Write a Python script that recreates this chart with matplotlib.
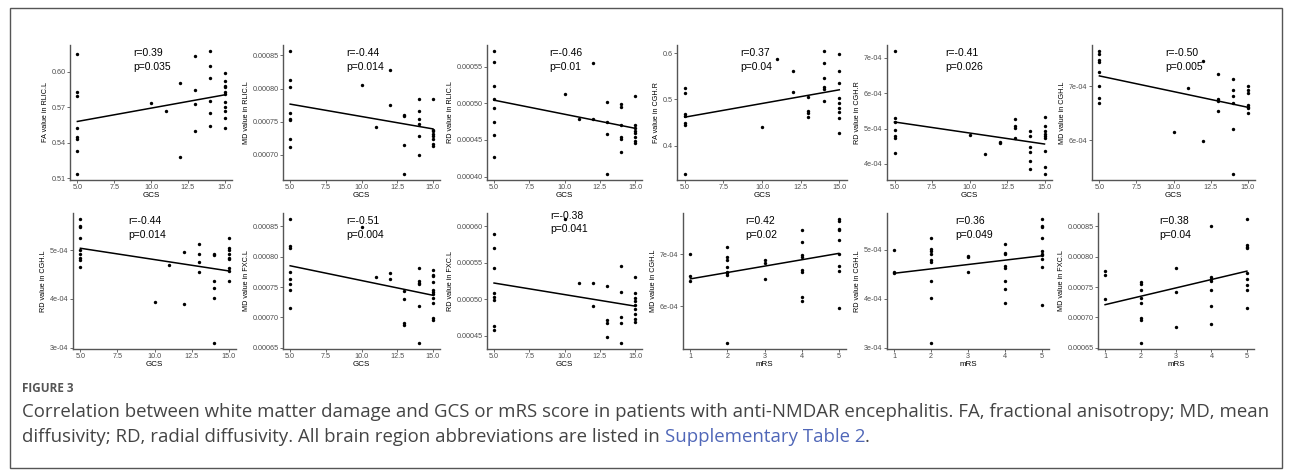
import numpy as np
import matplotlib
matplotlib.use("Agg")
import matplotlib.pyplot as plt
from matplotlib.patches import Rectangle

# ---- data ----
gcs_x1 = [5]*8 + [10, 11, 12, 12, 13, 13, 13, 13, 14, 14, 14, 14, 14, 14] + [15]*11
fa_rlic = [0.6153, 0.5828, 0.5794, 0.5523, 0.5449, 0.5432, 0.5331, 0.5136,
           0.5735, 0.5669, 0.5907, 0.5277, 0.6130, 0.5847, 0.5729, 0.5497,
           0.6175, 0.6048, 0.5949, 0.5752, 0.5650, 0.5545,
           0.5986, 0.5918, 0.5884, 0.5870, 0.5825, 0.5811, 0.5748, 0.5706, 0.5669, 0.5608, 0.5525]

gcs_x2 = [5]*8 + [10, 11, 12, 12, 13, 13, 13, 13, 14, 14, 14, 14, 14, 14] + [15]*8
md_rlic = [0.0008565, 0.0008132, 0.0008026, 0.0007626, 0.0007545, 0.0007520, 0.0007232, 0.0007117,
           0.0008056, 0.0007424, 0.0008277, 0.0007753, 0.0007601, 0.0007580, 0.0007147, 0.0006712,
           0.0007844, 0.0007667, 0.0007541, 0.0007465, 0.0007277, 0.0007000,
           0.0007848, 0.0007379, 0.0007353, 0.0007314, 0.0007277, 0.0007238, 0.0007167, 0.0007126]

gcs_x3 = [5]*8 + [10, 11, 12, 12, 13, 13, 13, 13, 14, 14, 14, 14, 14, 14] + [15]*8
rd_rlic = [0.000571, 0.000556, 0.0005237, 0.0005064, 0.0004941, 0.000475, 0.0004565, 0.0004265,
           0.0005124, 0.0004787, 0.0005555, 0.0004787, 0.0005023, 0.0004746, 0.0004582, 0.0004037,
           0.0004991, 0.0004955, 0.0004701, 0.0004537, 0.000451, 0.0004333,
           0.00051, 0.0004701, 0.000466, 0.0004623, 0.0004592, 0.0004546, 0.0004491, 0.0004456]

gcs_x4 = [5]*7 + [10, 11, 12, 12, 13, 13, 13, 13, 14, 14, 14, 14, 14, 14] + [15]*9
fa_cghr = [0.5245, 0.515, 0.4684, 0.4647, 0.449, 0.4447, 0.3396,
           0.441, 0.5877, 0.5618, 0.5172, 0.5051, 0.4762, 0.4706, 0.4619,
           0.6043, 0.5797, 0.5474, 0.5279, 0.5236, 0.4971,
           0.5978, 0.5618, 0.5353, 0.5029, 0.4934, 0.4813, 0.4727, 0.4611, 0.4287]

gcs_x5 = [5]*7 + [10, 11, 12, 12, 13, 13, 13, 13, 14, 14, 14, 14, 14, 14] + [15]*9
rd_cghr = [7.19e-4, 5.29e-4, 5.19e-4, 4.97e-4, 4.80e-4, 4.74e-4, 4.31e-4,
           4.83e-4, 4.29e-4, 4.63e-4, 4.59e-4, 5.26e-4, 5.06e-4, 5.01e-4, 4.73e-4,
           4.94e-4, 4.79e-4, 4.49e-4, 4.34e-4, 4.07e-4, 3.86e-4,
           5.34e-4, 5.08e-4, 4.92e-4, 4.84e-4, 4.79e-4, 4.73e-4, 4.38e-4, 3.90e-4, 3.72e-4]

gcs_x6 = [5]*8 + [10, 11, 12, 12, 13, 13, 13, 13, 14, 14, 14, 14, 14, 14] + [15]*7
md_cghl = [7.654e-4, 7.605e-4, 7.481e-4, 7.45e-4, 7.259e-4, 7.0e-4, 6.784e-4, 6.691e-4,
           6.143e-4, 6.975e-4, 7.463e-4, 5.987e-4, 7.222e-4, 6.765e-4, 6.728e-4, 6.537e-4,
           7.13e-4, 6.926e-4, 6.82e-4, 6.68e-4, 6.204e-4, 5.37e-4,
           7.0e-4, 6.938e-4, 6.883e-4, 6.648e-4, 6.617e-4, 6.587e-4, 6.494e-4]

gcs_x7 = [5]*9 + [10, 11, 12, 12, 13, 13, 13, 13, 14, 14, 14, 14, 14, 14] + [15]*9
rd_cghl = [5.636e-4, 5.497e-4, 5.476e-4, 5.248e-4, 4.994e-4, 4.917e-4, 4.843e-4, 4.807e-4, 4.656e-4,
           3.932e-4, 4.689e-4, 4.959e-4, 3.89e-4, 5.13e-4, 4.932e-4, 4.766e-4, 4.559e-4,
           4.925e-4, 4.896e-4, 4.366e-4, 4.222e-4, 4.027e-4, 3.10e-4,
           5.257e-4, 5.035e-4, 4.994e-4, 4.932e-4, 4.843e-4, 4.822e-4, 4.627e-4, 4.58e-4, 4.373e-4]

gcs_x8 = [5]*8 + [10, 11, 12, 12, 13, 13, 13, 13, 14, 14, 14, 14, 14, 14] + [15]*11
md_fxcl = [0.0008619, 0.0008183, 0.000815, 0.0007748, 0.0007639, 0.0007546, 0.0007454, 0.000716,
           0.0008494, 0.0007667, 0.0007732, 0.0007639, 0.0007438, 0.0007301, 0.0006903, 0.0006866,
           0.0007814, 0.0007601, 0.0007569, 0.0007546, 0.0007186, 0.000658,
           0.0007775, 0.0007704, 0.0007683, 0.0007585, 0.0007448, 0.0007422, 0.0007389, 0.0007312,
           0.000723, 0.0006985, 0.0006953]

gcs_x9 = [5]*8 + [10, 11, 12, 12, 13, 13, 13, 13, 14, 14, 14, 14, 14] + [15]*9
rd_fxcl = [0.0005892, 0.0005699, 0.0005426, 0.0005088, 0.0005035, 0.0004992, 0.0004638, 0.0004574,
           0.0006096, 0.0005228, 0.0005223, 0.0004902, 0.0005175, 0.0004714, 0.000467, 0.0004478,
           0.0005453, 0.0005105, 0.0004757, 0.0004677, 0.0004404,
           0.0005304, 0.0005079, 0.0005024, 0.0004971, 0.0004918, 0.0004863, 0.0004794, 0.000473, 0.0004693]

mrs_x10 = [1]*3 + [2]*8 + [3]*3 + [4]*8 + [5]*9
md_cghl_mrs = [7.0e-4, 6.577e-4, 6.492e-4,
               7.135e-4, 6.942e-4, 6.896e-4, 6.762e-4, 6.665e-4, 6.635e-4, 6.602e-4, 5.30e-4,
               6.896e-4, 6.827e-4, 6.525e-4,
               7.473e-4, 7.231e-4, 6.987e-4, 6.942e-4, 6.704e-4, 6.654e-4, 6.185e-4, 6.108e-4,
               7.679e-4, 7.635e-4, 7.487e-4, 7.467e-4, 7.269e-4, 7.0e-4, 6.781e-4, 6.685e-4, 5.962e-4]

mrs_x11 = [1]*3 + [2]*9 + [3]*3 + [4]*8 + [5]*10
rd_cghl_mrs = [5.0e-4, 4.551e-4, 4.531e-4,
               5.241e-4, 5.014e-4, 4.979e-4, 4.911e-4, 4.793e-4, 4.752e-4, 4.358e-4, 4.012e-4, 3.10e-4,
               4.876e-4, 4.841e-4, 4.551e-4,
               5.118e-4, 4.932e-4, 4.911e-4, 4.675e-4, 4.634e-4, 4.358e-4, 4.199e-4, 3.917e-4,
               5.621e-4, 5.482e-4, 5.455e-4, 5.228e-4, 4.965e-4, 4.917e-4, 4.882e-4, 4.814e-4, 4.641e-4, 3.876e-4]

mrs_x12 = [1]*3 + [2]*8 + [3]*3 + [4]*7 + [5]*9
md_fxcl_mrs = [0.0007765, 0.0007693, 0.0007296,
               0.0007585, 0.0007557, 0.0007459, 0.0007312, 0.0007242, 0.0006985, 0.0006958, 0.000658,
               0.0007814, 0.0007422, 0.0006833,
               0.00085, 0.0007667, 0.0007639, 0.0007606, 0.0007443, 0.0007193, 0.0006892,
               0.0008619, 0.0008194, 0.0008167, 0.0008141, 0.0007737, 0.0007639, 0.0007541, 0.0007454, 0.000716]

ylabels = ["FA value in RLIC.L", "MD value in RLIC.L", "RD value in RLIC.L",
           "FA value in CGH.R", "RD value in CGH.R", "MD value in CGH.L",
           "RD value in CGH.L", "MD value in FXC.L", "RD value in FXC.L",
           "MD value in CGH.L", "RD value in CGH.L", "MD value in FXC.L"]
r_text = ["r=0.39", "r=-0.44", "r=-0.46", "r=0.37", "r=-0.41", "r=-0.50",
          "r=-0.44", "r=-0.51", "r=-0.38", "r=0.42", "r=0.36", "r=0.38"]
p_text = ["p=0.035", "p=0.014", "p=0.01", "p=0.04", "p=0.026", "p=0.005",
          "p=0.014", "p=0.004", "p=0.041", "p=0.02", "p=0.049", "p=0.04"]
yticks = [[0.51, 0.54, 0.57, 0.60], [0.00070, 0.00075, 0.00080, 0.00085],
          [0.00040, 0.00045, 0.00050, 0.00055], [0.4, 0.5, 0.6],
          [4e-4, 5e-4, 6e-4, 7e-4], [6e-4, 7e-4], [3e-4, 4e-4, 5e-4],
          [0.00065, 0.00070, 0.00075, 0.00080, 0.00085], [0.00045, 0.00050, 0.00055, 0.00060],
          [6e-4, 7e-4], [3e-4, 4e-4, 5e-4], [0.00065, 0.00070, 0.00075, 0.00080, 0.00085]]
yfmt = ["%.2f", "%.5f", "%.5f", "%.1f", "e", "e", "e", "%.5f", "%.5f", "e", "e", "%.5f"]

xs = [gcs_x1, gcs_x2, gcs_x3, gcs_x4, gcs_x5, gcs_x6, gcs_x7, gcs_x8, gcs_x9, mrs_x10, mrs_x11, mrs_x12]
ys = [fa_rlic, md_rlic, rd_rlic, fa_cghr, rd_cghr, md_cghl, rd_cghl, md_fxcl, rd_fxcl,
      md_cghl_mrs, rd_cghl_mrs, md_fxcl_mrs]
xlab = ["GCS"]*9 + ["mRS"]*3

# ---- layout (pixels) ----
W, H = 1292, 476
cols_px = [(70, 232), (283, 440), (487, 642), (677, 847), (887, 1052), (1092, 1255),
           (73, 236), (283, 440), (487, 642), (683, 846), (887, 1049), (1098, 1254)]
rows_px = [(45, 180), (213, 349)]
txt_pos = [0.39, 0.405, 0.40, 0.373, 0.353, 0.449, 0.34, 0.40, 0.41, 0.38, 0.42, 0.39]

plt.rcParams['font.family'] = ['Liberation Sans', 'DejaVu Sans']
fig = plt.figure(figsize=(W/100, H/100), dpi=100)

# frame
fig.patches.append(Rectangle((10/W, 1-468/H), 1272/W, 460/H, transform=fig.transFigure,
                             fill=False, edgecolor='#555555', lw=1.0))

for i in range(12):
    l, r = cols_px[i]
    t, b = rows_px[i // 6]
    ax = fig.add_axes([l/W, 1-b/H, (r-l)/W, (b-t)/H])
    x = np.array(xs[i], dtype=float)
    y = np.array(ys[i], dtype=float)
    ax.scatter(x, y, s=6, color='black', linewidths=0, zorder=3)
    k, c = np.polyfit(x, y, 1)
    xx = np.array([x.min(), x.max()])
    ax.plot(xx, k*xx + c, color='black', lw=1.1, zorder=2)

    if i < 9:
        ax.set_xlim(4.5, 15.5)
        ax.set_xticks([5, 7.5, 10, 12.5, 15])
        ax.set_xticklabels(["5.0", "7.5", "10.0", "12.5", "15.0"])
    else:
        ax.set_xlim(0.8, 5.2)
        ax.set_xticks([1, 2, 3, 4, 5])
    pad = (y.max() - y.min()) * 0.05
    ax.set_ylim(y.min() - pad, y.max() + pad)
    ax.set_yticks(yticks[i])
    if yfmt[i] == "e":
        ax.set_yticklabels([f"{v:.0e}" for v in yticks[i]])
    else:
        ax.set_yticklabels([yfmt[i] % v for v in yticks[i]])

    for s in ['top', 'right']:
        ax.spines[s].set_visible(False)
    for s in ['left', 'bottom']:
        ax.spines[s].set_color('#555555')
        ax.spines[s].set_linewidth(1.0)
    ax.tick_params(length=2, width=0.6, color='#555555', labelsize=5.2,
                   labelcolor='#4d4d4d', pad=1.2)
    ax.set_xlabel(xlab[i], fontsize=5.8, labelpad=0.5)
    ax.set_ylabel(ylabels[i], fontsize=5.2, labelpad=2)

    ty = 0.98 if i == 8 else 0.94
    ax.text(txt_pos[i], ty, r_text[i], transform=ax.transAxes, fontsize=7.5,
            ha='left', va='center')
    ax.text(txt_pos[i], ty - 0.10, p_text[i], transform=ax.transAxes, fontsize=7.5,
            ha='left', va='center')

# caption
cap_font = ['Open Sans', 'DejaVu Sans']
cap_size = 13.4
fig.text(22/W, 1-389/H, "FIGURE 3", fontsize=8.5, fontweight='bold', color='#555555',
         family=cap_font, va='center')
fig.text(22/W, 1-412/H,
         "Correlation between white matter damage and GCS or mRS score in patients with "
         "anti-NMDAR encephalitis. FA, fractional anisotropy; MD, mean",
         fontsize=cap_size, color='#444444', family=cap_font, va='center')
line2 = fig.text(22/W, 1-437/H,
                 "diffusivity; RD, radial diffusivity. All brain region abbreviations are listed in ",
                 fontsize=cap_size, color='#444444', family=cap_font, va='center')
fig.canvas.draw()
bb = line2.get_window_extent(renderer=fig.canvas.get_renderer())
link = fig.text(bb.x1/W, 1-437/H, "Supplementary Table 2", fontsize=cap_size, color='#5067b8',
                family=cap_font, va='center')
fig.canvas.draw()
bb2 = link.get_window_extent(renderer=fig.canvas.get_renderer())
fig.text(bb2.x1/W, 1-437/H, ".", fontsize=cap_size, color='#444444', family=cap_font, va='center')

fig.savefig("out.png", dpi=100)
